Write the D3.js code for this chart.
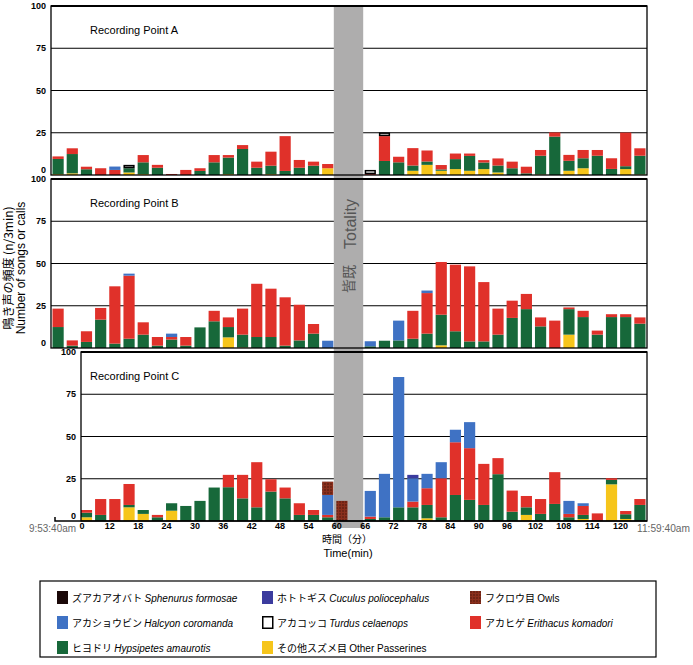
<!DOCTYPE html>
<html>
<head>
<meta charset="utf-8">
<script src="https://cdn.jsdelivr.net/npm/d3@7"></script>
<style>
body { margin: 0; background: #fff; }
text { font-family: "Liberation Sans", Arial, sans-serif; }
</style>
</head>
<body>
<div id="chart"></div>
<script>
// bar i covers minutes [3i, 3i+3]; 42 bars from 9:53:40 to 11:59:40
// Recording Point A
const aPasserines = [0.5,1,0,0,0,1.5,0.5,0,0,0, 0,0,0.5,0,0,0.5,0,0,0,4, 0,0,0,0,0,2.5,6,2.5,3.5,2.5, 3.5,1.5,0,0,0.3,0,2.5,4,0,0, 3.5,0.3];
const aHypsipetes = [9,11.4,3.4,0,0,2.5,7,4.3,0,0, 2.4,7.5,9.8,15.4,4.3,5,2.4,4.3,5.5,0, 0,0,0,8.3,7.5,3.1,2,0.8,5.9,8.8, 3.9,4.1,4,1,11.1,22.7,5.9,5.9,11.4,3.6, 1.7,11.1];
const aErithacus = [1.5,3.4,1.5,4,3,0,4.3,1.7,0.6,3, 1.6,4.3,1.5,2.3,3.6,8.3,20.6,4.6,2.4,2.5, 0,0,0.5,14.7,3.3,10.3,6.5,2.6,3.3,1.4, 1.4,4.2,3.9,3.9,3.4,2.5,3.5,4.9,3.4,6.3, 19.9,4.4];
const aHalcyon = [0,0,0,0,2,0,0,0,0,0, 0,0,0,0,0,0,0,0,0,0, 0,0,0,0,0,0,0,0,0,0, 0,0,0,0,0,0,0,0,0,0, 0,0];
const aTurdus = [0,0,0,0,0,2,0,0,0,0, 0,0,0,0,0,0,0,0,0,0, 0,0,2.5,2.2,0,0,0,0,0,0, 0,0,0,0,0,0,0,0,0,0, 0,0];

// Recording Point B
const bPasserines = [0,0,0,0,0,0,0,0,0,0, 0,0,6.3,0.3,0,0,0,0,0,0, 0,0,0,0,0,0,0,1.6,0,0, 0,0,0,0,0,0,7.9,0,0,0, 0,0];
const bHypsipetes = [12.4,1.4,3.6,16.8,2.6,5.5,7.9,1.4,5,1.4, 12.2,15.8,6.1,7.6,6.5,6.5,1.4,4.5,8.5,0, 0,0,1,4.3,4.5,5.5,8.5,18.1,9.9,3.9, 3.9,7.9,17.8,23,12.8,0,15.1,18.3,7.9,18.3, 18.3,14.4];
const bErithacus = [10.9,3.1,6.3,6.9,33.9,37.3,7.3,5.1,1.5,5.1, 0,6.2,5.7,15.4,31.5,28.6,28.6,21.1,5.7,0, 0,0,0,0,0,16.5,24,31.2,39.4,44.4, 35.1,15.4,10.2,9,5.3,16.2,1,3.7,2.4,1.7, 1.7,3.7];
const bHalcyon = [0,0,0,0,0,1.2,0,0,2,0, 0,0,0,0,0,0,0,0,0,4.3, 0,0,3,0,11.7,0,1.5,0,0,0, 0,0,0,0,0,0,0,0,0,0, 0,0];

// Recording Point C
const cPasserines = [0,0,2.2,0,0,8.1,4.2,0,6.1,0, 0,0,0,0,0,0,0,0,0,0, 0,0,0,0,0,0.3,1.6,0,0.3,0, 0,0,0,3.6,0,0,0,1.2,0,21.7, 1.2,0];
const cHypsipetes = [0,0,2.7,3.6,0,1.4,2.3,2.2,4.4,8.9, 11.9,19.8,20,13.4,8.1,17.4,13.4,3.6,3.6,2.2, 0,0,1.2,2.2,8.1,7.8,7.9,2.2,15.1,12.5, 9.5,27.7,5.5,4.5,4.2,10.1,2.2,2.4,0,2.6, 2.8,9.5];
const cErithacus = [0,0,1.6,9.4,13,12.4,0,1.4,0,0, 0,0,7.3,13.9,26.7,7.3,6.4,6.9,2.9,1.4, 0,0,1.4,0,0,3.4,9.9,23.1,31.2,30.6, 24.3,9.5,12.5,6.7,8.8,18.8,2,5.3,4.5,1, 1.9,3.5];
const cHalcyon = [0,0,0,0,0,0,0,0,0,0, 0,0,0,0,0,0,0,0,0,11.8, 0,0,15.2,25.7,77.1,13.8,8.5,9.5,7.4,15.4, 0,0,0,0,0,0,7.7,1.6,0,0, 0,0];
const cCuculus = [0,0,0,0,0,0,0,0,0,0, 0,0,0,0,0,0,0,0,0,0, 0,0,0,0,0,2,0,0,0,0, 0,0,0,0,0,0,0,0,0,0, 0,0];
const cOwls = [0,0,0,0,0,0,0,0,0,0, 0,0,0,0,0,0,0,0,0,7.9, 11.9,0,0,0,0,0,0,0,0,0, 0,0,0,0,0,0,0,0,0,0, 0,0];

const yTicks = [0, 25, 50, 75, 100];
const xTickLabels = [12, 18, 24, 30, 36, 42, 48, 54, 60, 66, 72, 78, 84, 90, 96, 102, 108, 114, 120];
const totality = [60, 66];

const legendItems = [
    { key: "sphenurus", jp: "ズアカアオバト", la: "Sphenurus formosae" },
    { key: "cuculus", jp: "ホトトギス", la: "Cuculus poliocephalus" },
    { key: "owls", jp: "フクロウ目", en: "Owls" },
    { key: "halcyon", jp: "アカショウビン", la: "Halcyon coromanda" },
    { key: "turdus", jp: "アカコッコ", la: "Turdus celaenops" },
    { key: "erithacus", jp: "アカヒゲ", la: "Erithacus komadori" },
    { key: "hypsipetes", jp: "ヒヨドリ", la: "Hypsipetes amaurotis" },
    { key: "passerines", jp: "その他スズメ目", en: "Other Passerines" }
];

const stackKeys = ["passerines", "hypsipetes", "erithacus", "halcyon", "cuculus", "owls", "turdus", "sphenurus"];
const colors = {
    passerines: "#f6c51b", hypsipetes: "#17683a", erithacus: "#e0312a", halcyon: "#3f72c4",
    cuculus: "#3b3b9e", owls: "url(#owlDots)", turdus: "#fff", sphenurus: "#1a0808"
};

const panels = [
    { label: "Recording Point A", top: 6, left: 51, labelRight: 46,
      series: { passerines: aPasserines, hypsipetes: aHypsipetes, erithacus: aErithacus, halcyon: aHalcyon, turdus: aTurdus } },
    { label: "Recording Point B", top: 179, left: 51, labelRight: 46,
      series: { passerines: bPasserines, hypsipetes: bHypsipetes, erithacus: bErithacus, halcyon: bHalcyon } },
    { label: "Recording Point C", top: 352, left: 81, labelRight: 76,
      series: { passerines: cPasserines, hypsipetes: cHypsipetes, erithacus: cErithacus, halcyon: cHalcyon, cuculus: cCuculus, owls: cOwls } }
];

const width = 693, height = 665;
const plotH = 169, right = 647;
const x = d3.scaleLinear().domain([0, 126]).range([51, right]);
const barW = x(3) - x(0) - 3;

const svg = d3.select("#chart").append("svg")
    .attr("width", width)
    .attr("height", height);

const defs = svg.append("defs");
const pat = defs.append("pattern").attr("id", "owlDots")
    .attr("width", 3).attr("height", 3).attr("patternUnits", "userSpaceOnUse");
pat.append("rect").attr("width", 3).attr("height", 3).attr("fill", "#8a2f1c");
pat.append("circle").attr("cx", 1).attr("cy", 1).attr("r", 0.7).attr("fill", "#3d0f08");

// gridlines first, gray band over them, bars on top
panels.forEach(p => {
    const y = d3.scaleLinear().domain([0, 100]).range([p.top + plotH, p.top]);
    p.y = y;
    svg.append("g").selectAll("line")
        .data([25, 50, 75])
        .enter().append("line")
        .attr("x1", p.left).attr("x2", right)
        .attr("y1", d => y(d)).attr("y2", d => y(d))
        .attr("stroke", "#000").attr("stroke-width", 1);
});

svg.append("rect")
    .attr("x", x(totality[0]) - 1)
    .attr("y", 6)
    .attr("width", x(totality[1]) - x(totality[0]) + 1)
    .attr("height", 528 - 6)
    .attr("fill", "#aeadad");

panels.forEach((p, pi) => {
    const y = p.y;
    const keys = stackKeys.filter(k => p.series[k]);
    const rows = d3.range(42).map(i => {
        const r = { i };
        keys.forEach(k => r[k] = p.series[k][i]);
        return r;
    });
    const stacked = d3.stack().keys(keys)(rows);

    defs.append("clipPath").attr("id", "clip" + pi)
        .append("rect").attr("x", p.left).attr("y", p.top)
        .attr("width", right - p.left).attr("height", plotH);

    const g = svg.append("g").attr("clip-path", `url(#clip${pi})`);
    stacked.forEach(layer => {
        const k = layer.key;
        const inset = k === "turdus" ? 0.75 : 0;
        g.append("g").selectAll("rect")
            .data(layer.filter(d => d[1] - d[0] > 0))
            .enter().append("rect")
            .attr("x", d => x(d.data.i * 3) + 1.5 + inset)
            .attr("width", barW - 2 * inset)
            .attr("y", d => y(d[1]) + inset)
            .attr("height", d => y(d[0]) - y(d[1]) - 2 * inset)
            .attr("fill", colors[k])
            .attr("stroke", k === "turdus" ? "#000" : "none")
            .attr("stroke-width", 1.5);
    });

    // frame
    svg.append("rect")
        .attr("x", p.left).attr("y", p.top)
        .attr("width", right - p.left).attr("height", plotH)
        .attr("fill", "none").attr("stroke", "#000").attr("stroke-width", 1.3);
    svg.append("line")
        .attr("x1", p.left).attr("x2", right)
        .attr("y1", p.top).attr("y2", p.top)
        .attr("stroke", "#000").attr("stroke-width", 2);

    svg.append("g").selectAll("text")
        .data(yTicks)
        .enter().append("text")
        .attr("x", p.labelRight)
        .attr("y", d => d === 0 ? y(d) - 2 : y(d) + 3)
        .attr("text-anchor", "end")
        .attr("font-size", 9)
        .attr("font-weight", "bold")
        .style("font-family", "'Liberation Sans Narrow', 'Liberation Sans', sans-serif")
        .text(d => d);

    svg.append("text")
        .attr("x", 90).attr("y", p.top + 28)
        .attr("font-size", 11)
        .text(p.label);
});

// bottom axis of panel C
svg.append("path")
    .attr("d", `M55,517V521H${right}`)
    .attr("fill", "none").attr("stroke", "#000").attr("stroke-width", 1.5);

svg.append("g").selectAll("text")
    .data(xTickLabels)
    .enter().append("text")
    .attr("x", d => x(d) + 2)
    .attr("y", 529)
    .attr("text-anchor", "middle")
    .attr("font-size", 9)
    .attr("font-weight", "bold")
    .style("font-family", "'Liberation Sans Narrow', 'Liberation Sans', sans-serif")
    .text(d => d);
svg.append("text").attr("x", 82).attr("y", 529)
    .attr("text-anchor", "middle").attr("font-size", 9).attr("font-weight", "bold")
    .style("font-family", "'Liberation Sans Narrow', 'Liberation Sans', sans-serif")
    .text("0");

svg.append("text").attr("x", 76).attr("y", 532)
    .attr("text-anchor", "end")
    .attr("font-size", 11).attr("fill", "#666")
    .attr("textLength", 47).attr("lengthAdjust", "spacingAndGlyphs")
    .text("9:53:40am");
svg.append("text").attr("x", 637).attr("y", 532)
    .attr("font-size", 11).attr("fill", "#666")
    .attr("textLength", 53).attr("lengthAdjust", "spacingAndGlyphs")
    .text("11:59:40am");

svg.append("text").attr("x", 347).attr("y", 543)
    .attr("text-anchor", "middle").attr("font-size", 10)
    .style("font-family", "'Noto Sans CJK JP', sans-serif")
    .text("時間（分）");
svg.append("text").attr("x", 348).attr("y", 557)
    .attr("text-anchor", "middle").attr("font-size", 11)
    .text("Time(min)");

// totality labels
svg.append("text")
    .attr("transform", "translate(356,224) rotate(-90)")
    .attr("text-anchor", "middle").attr("font-size", 16).attr("fill", "#555")
    .text("Totality");
svg.append("text")
    .attr("transform", "translate(354,279) rotate(-90)")
    .attr("text-anchor", "middle").attr("font-size", 14).attr("fill", "#555")
    .style("font-family", "'Noto Sans CJK JP', sans-serif")
    .text("皆既");

// y title
svg.append("text")
    .attr("transform", "translate(13,268) rotate(-90)")
    .attr("text-anchor", "middle").attr("font-size", 12)
    .style("font-family", "'Noto Sans CJK JP', sans-serif")
    .text("鳴き声の頻度 (n/3min)");
svg.append("text")
    .attr("transform", "translate(25,268) rotate(-90)")
    .attr("text-anchor", "middle").attr("font-size", 12)
    .text("Number of songs or calls");

// legend
svg.append("rect")
    .attr("x", 40).attr("y", 581).attr("width", 616).attr("height", 76)
    .attr("fill", "none").attr("stroke", "#000").attr("stroke-width", 1.2);

const colX = [57, 262, 470];
const rowY = [591, 616, 641];
const lg = svg.append("g").selectAll("g")
    .data(legendItems)
    .enter().append("g")
    .attr("transform", (d, i) => `translate(${colX[i % 3]},${rowY[Math.floor(i / 3)]})`);
lg.append("rect")
    .attr("x", d => d.key === "turdus" ? 0.75 : 0)
    .attr("y", d => d.key === "turdus" ? 0.75 : 0)
    .attr("width", d => d.key === "turdus" ? 10 : 11)
    .attr("height", d => d.key === "turdus" ? 11.5 : 13)
    .attr("fill", d => colors[d.key])
    .attr("stroke", d => d.key === "turdus" ? "#000" : "none")
    .attr("stroke-width", 1.5);
const lt = lg.append("text")
    .attr("x", 15).attr("y", 10.5)
    .attr("font-size", 10);
lt.append("tspan")
    .style("font-family", "'Noto Sans CJK JP', sans-serif")
    .text(d => d.jp + " ");
lt.append("tspan")
    .attr("font-style", d => d.la ? "italic" : "normal")
    .text(d => d.la || d.en);
</script>
</body>
</html>
